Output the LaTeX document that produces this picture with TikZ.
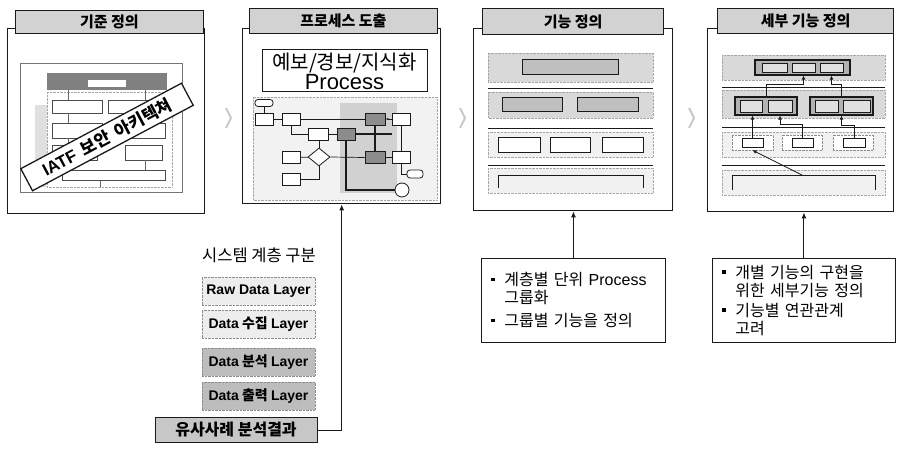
\documentclass[tikz,border=0pt]{standalone}
\usepackage{fontspec}
\setmainfont{Noto Sans CJK KR}
\newfontfamily\latfont{Liberation Sans}
\definecolor{scanInk}{HTML}{1A1A1A}
\definecolor{scanTab}{HTML}{D2D2D2}
\definecolor{scanBand}{HTML}{D9D9D9}
\definecolor{scanBandLt}{HTML}{F1F1F1}
\definecolor{scanLight}{HTML}{EDEDED}
\definecolor{scanDark}{HTML}{BDBDBD}
\usetikzlibrary{calc,positioning,arrows.meta,shapes.geometric}
\newcommand{\fsz}[2]{\fontsize{#1}{#2}\selectfont}
\newcommand{\en}[1]{{\latfont #1}}
\newcommand{\sqb}{\makebox[13pt][l]{\raisebox{0.3em}{\rule{3.5pt}{3.5pt}}}}

\begin{document}
\begin{tikzpicture}[x=1pt, y=-1pt,
  frame/.style={draw=scanInk, line width=1.4pt, fill=white, inner sep=0pt, anchor=north west},
  tab/.style={draw=scanInk, line width=1.2pt, fill=scanTab, inner sep=0pt,
    font=\fsz{15}{17}\bfseries},
  note/.style={draw=scanInk, line width=0.9pt, fill=white, align=left, anchor=north west,
    inner xsep=10pt, inner ysep=0pt, minimum height=84pt, font=\fsz{16}{18}},
  layer/.style={draw=black!45, densely dotted, fill=#1, minimum width=113pt,
    minimum height=28pt, inner sep=0pt, font=\fsz{14}{16}\bfseries},
  casebox/.style={draw=scanInk, line width=1pt, fill=black!22, minimum width=162pt,
    minimum height=25pt, inner sep=0pt, font=\fsz{16}{18}\bfseries},
  banner/.style={draw=scanInk, line width=1.3pt, fill=white, minimum width=182pt,
    minimum height=25pt, inner sep=0pt, font=\fsz{17}{20}\bfseries},
  arr/.style={-{Latex[length=6pt,width=5pt]}, line width=1pt, draw=scanInk},
  chev/.style={draw=black!22, line width=2pt},
  fbox/.style={draw=scanInk, line width=0.8pt, fill=white, minimum width=18pt,
    minimum height=12pt, inner sep=0pt},
  fdark/.style={fbox, fill=black!45},
  fline/.style={draw=scanInk, line width=0.7pt},
  fthick/.style={draw=scanInk, line width=1.6pt},
  band/.style={fill=#1, draw=black!35, densely dotted},
  sepline/.style={draw=scanInk, line width=0.9pt},
  grp/.style={draw=scanInk, line width=1pt, fill=black!25},
  cell/.style={draw=scanInk, line width=0.8pt, fill=white},
  grpbox/.style={draw=scanInk, line width=1.2pt, fill=black!30, inner sep=0pt},
  cellbox/.style={draw=scanInk, line width=0.7pt, fill=white, inner sep=0pt},
  link/.style={draw=scanInk, line width=0.8pt, -{Latex[length=4pt,width=4pt]}}
]
  \useasboundingbox (0,0) rectangle (897,454);

  % panels
  \node[frame, minimum width=197pt, minimum height=185pt] (std) at (7,28) {};
  \node[tab, minimum width=188pt, minimum height=23pt, anchor=north east] (stdT)
    at (204,10) {기준 정의};
  \node[frame, minimum width=198pt, minimum height=175pt] (proc) at (242,28) {};
  \node[tab, minimum width=188pt, minimum height=25pt, anchor=north east] (procT)
    at (438,8) {프로세스 도출};
  \node[frame, minimum width=199pt, minimum height=182pt] (fn) at (473,28) {};
  \node[tab, minimum width=181pt, minimum height=26pt, anchor=north west] (fnT)
    at (482,8) {기능 정의};
  \node[frame, minimum width=186pt, minimum height=183pt] (det) at (707,28) {};
  \node[tab, minimum width=176pt, minimum height=25pt, anchor=north west] (detT)
    at (717,8) {세부 기능 정의};

  % chevrons between panels
  \foreach \x in {226,460,689}
    \draw[chev] (\x,108) -- (\x+5,118) -- (\x,128);

  % standard: architecture picture
  \draw[black!55, fill=white] (20,63) rectangle (182,192);
  \fill[black!12] (35,105) rectangle (47,187);
  \fill[black!50] (47,73) rectangle (167,90);
  \fill[white] (88,80) rectangle (126,87);
  \draw[black!35, densely dotted] (47,92) rectangle (172,187);
  \foreach \xa/\ya/\xb/\yb in {52/100/102/113, 108/100/165/113, 52/123/102/138,
      108/123/165/138, 52/145/97/160, 125/145/162/160, 62/170/165/180}
    \draw[black!70, fill=white] (\xa,\ya) rectangle (\xb,\yb);
  \foreach \x/\ya/\yb in {68/90/100, 145/90/100, 68/113/123, 68/138/145,
      145/160/170, 100/180/187}
    \draw[black!60] (\x,\ya) -- (\x,\yb);
  \node[banner, rotate=28] (iatf) at (107,137)
    {\en{IATF}\hspace{7pt}보안\hspace{7pt}아키텍쳐};

  % process: title box and flow chart
  \node[draw=scanInk, line width=1pt, fill=white, minimum width=165pt,
    minimum height=42pt, inner sep=0pt, align=center, font=\fsz{20}{20}]
    (procBox) at (344.5,71) {예보/경보/지식화\\{\fsz{22}{20}\en{Process}}};
  \fill[black!5] (253,97) rectangle (437,200);
  \draw[black!35, densely dotted] (253,97) rectangle (437,200);
  \fill[black!18] (340,103) rectangle (397,193);
  \node[fbox, rounded corners=3pt, minimum height=7pt] (f0) at (264,103) {};
  \node[fbox] (fa) at (264,119) {};
  \node[fbox] (fb) at (291.5,119) {};
  \node[fbox, minimum width=20pt] (fc) at (318,134) {};
  \node[fdark] (fd) at (346,134) {};
  \node[fdark, minimum width=20pt] (fe) at (375,119) {};
  \node[fbox] (ff) at (401,119) {};
  \node[fbox] (fg) at (291.5,157.5) {};
  \node[draw=scanInk, line width=0.8pt, fill=white, diamond, minimum width=22pt,
    minimum height=18pt, inner sep=0pt] (fq) at (319,157) {};
  \node[fbox] (fh) at (291.5,179) {};
  \node[fdark, minimum width=20pt] (fi) at (375,157.5) {};
  \node[fbox] (fj) at (401,157.5) {};
  \node[fbox, rounded corners=3pt, minimum width=16pt, minimum height=8pt] (fr)
    at (415,174) {};
  \node[draw=scanInk, line width=0.8pt, fill=white, circle, minimum size=14pt,
    inner sep=0pt] (fo) at (402,190) {};
  \draw[fline] (f0) -- (fa);
  \draw[fline] (fa) -- (fb);
  \draw[fline] (fb) -- (fe);
  \draw[fline] (fb.south) |- (fc.west);
  \draw[fline] (fc) -- (fd);
  \draw[fthick] (fd.east) -- (fd.east -| fj.west);
  \draw[fthick] (fe) -- (fi);
  \draw[fline, -{Latex[length=3pt]}] (ff) -- (fe);
  \draw[fline] (ff) -- (fj);
  \draw[fline] (fj) -- (fi);
  \draw[fline] (fg) -- (fq);
  \draw[fline] (fq.north) -- (fq.north |- fc.south);
  \draw[fline] (fq.east) -- (fi.west);
  \draw[fline] (fq.south) |- (fh.east);
  \draw[fline] (fj.south) |- (fr.west);
  \draw[fthick] (fd.south) |- (fo.west);

  % function definition: layered bands
  \foreach \ya/\yb/\c in {53/82/scanBand, 92/118/scanBand, 132/157/scanBandLt,
      168/193/scanBandLt}
    \draw[band=\c] (488,\ya) rectangle (653,\yb);
  \foreach \y in {88,128,165}
    \draw[sepline] (488,\y) -- (653,\y);
  \draw[grp] (522,60) rectangle (618,75);
  \draw[grp] (502,98) rectangle (562,112);
  \draw[grp] (577,98) rectangle (638,112);
  \foreach \xa/\xb in {498/540, 550/590, 602/643}
    \draw[cell] (\xa,137) rectangle (\xb,152);
  \draw[cell, fill=none] (498,188) -- (498,175) -- (643,175) -- (643,188);

  % detail definition: layered bands with links
  \foreach \ya/\yb/\c in {55/80/scanBand, 90/118/scanBand, 132/157/scanBandLt,
      170/195/scanBandLt}
    \draw[band=\c] (722,\ya) rectangle (885,\yb);
  \foreach \y in {87,127,165}
    \draw[sepline] (722,\y) -- (885,\y);
  \node[grpbox, minimum width=95pt, minimum height=15pt] (g1) at (802.5,67.5) {};
  \node[cellbox, fill=black!12, minimum width=25pt, minimum height=9pt] (t1)
    at (774.5,67.5) {};
  \node[cellbox, fill=black!12, minimum width=23pt, minimum height=9pt] (t2)
    at (803.5,67.5) {};
  \node[cellbox, fill=black!12, minimum width=23pt, minimum height=9pt] (t3)
    at (831.5,67.5) {};
  \node[grpbox, minimum width=62pt, minimum height=18pt] (gL) at (766,106) {};
  \node[grpbox, minimum width=63pt, minimum height=18pt] (gR) at (841.5,106) {};
  \node[cellbox, fill=black!12, minimum width=22pt, minimum height=12pt] (m1)
    at (751,106) {};
  \node[cellbox, fill=black!12, minimum width=24pt, minimum height=12pt] (m2)
    at (780,106) {};
  \node[cellbox, fill=black!12, minimum width=23pt, minimum height=12pt] (m3)
    at (826.5,106) {};
  \node[cellbox, fill=black!12, minimum width=27pt, minimum height=12pt] (m4)
    at (856.5,106) {};
  \node[draw=black!45, densely dotted, fill=white, minimum width=41pt,
    minimum height=15pt, inner sep=0pt] (b1) at (752.5,142.5) {};
  \node[draw=black!45, densely dotted, fill=white, minimum width=40pt,
    minimum height=15pt, inner sep=0pt] (b2) at (802,142.5) {};
  \node[draw=black!45, densely dotted, fill=white, minimum width=40pt,
    minimum height=15pt, inner sep=0pt] (b3) at (853,142.5) {};
  \node[cellbox, minimum width=21pt, minimum height=9pt] (s1) at (752.5,142.5) {};
  \node[cellbox, minimum width=21pt, minimum height=9pt] (s2) at (802.5,142.5) {};
  \node[cellbox, minimum width=22pt, minimum height=9pt] (s3) at (854,142.5) {};
  \draw[cell, fill=none] (732,190) -- (732,175) -- (875,175) -- (875,190);
  \coordinate (br4) at (802,175);
  \draw[link] (gL.north) -- ++(0,-12) -| (t2.south |- g1.south);
  \draw[link] (gR.north) -- ++(0,-12) -| (t3.south |- g1.south);
  \draw[link] (s1.north) -- (s1.north |- gL.south);
  \draw[link] (s2.north) -- ++(0,-13) -| (m2.south |- gL.south);
  \draw[link] (s3.north) -- ++(0,-12) -| (gR.south);
  \draw[link] (br4) -- (b1.south);

  % system layers
  \node[font=\fsz{16.5}{18}] (tier) at (259,255) {시스템 계층 구분};
  \node[layer=scanLight] (rawL) at (258.5,291) {\en{Raw Data Layer}};
  \node[layer=scanLight] (colL) at (258.5,324) {\en{Data} 수집 \en{Layer}};
  \node[layer=scanDark] (anaL) at (258.5,362) {\en{Data} 분석 \en{Layer}};
  \node[layer=scanDark] (outL) at (258.5,396) {\en{Data} 출력 \en{Layer}};
  \node[casebox] (case) at (236,430) {유사사례 분석결과};
  \draw[arr] (case.east) -| (proc.south);

  % notes
  \node[note, text width=164pt] (note3) at (481,258) {
    \sqb 계층별 단위 \en{Process}\\
    \hspace*{13pt}그룹화\\[5pt]
    \sqb 그룹별 기능을 정의};
  \node[note, text width=163pt] (note4) at (712,258) {
    \sqb 개별 기능의 구현을\\
    \hspace*{13pt}위한 세부기능 정의\\[2pt]
    \sqb 기능별 연관관계\\
    \hspace*{13pt}고려};
  \draw[arr] (note3.north) -- (note3.north |- fn.south);
  \draw[arr] (note4.north) -- (note4.north |- det.south);
\end{tikzpicture}
\end{document}
